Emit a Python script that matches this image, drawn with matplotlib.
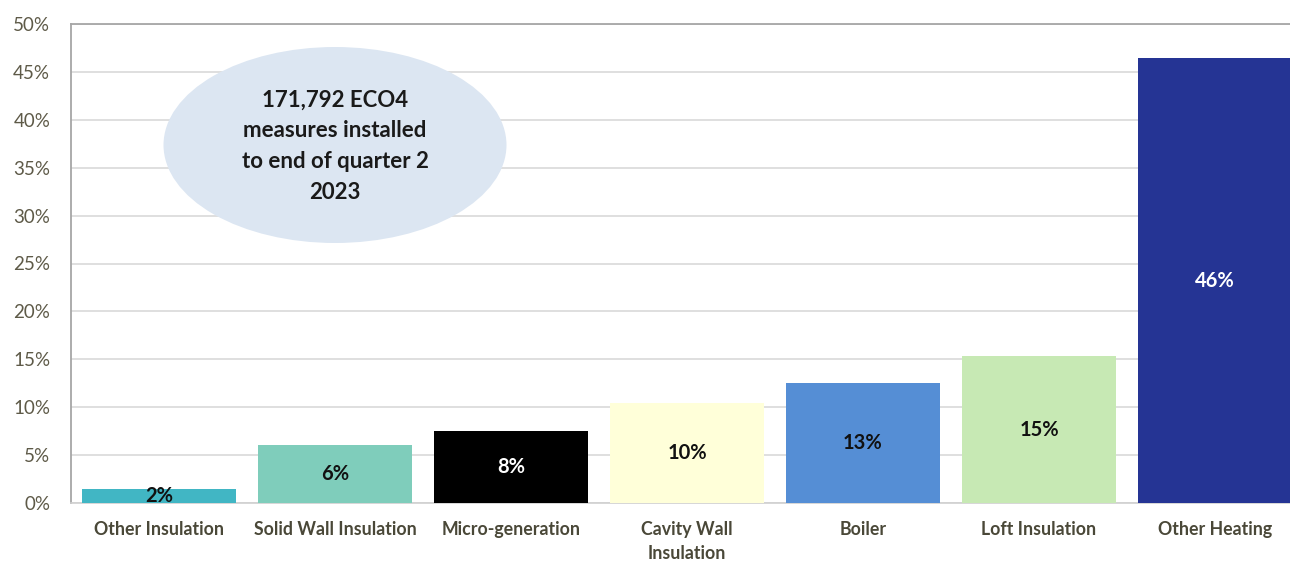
import matplotlib
matplotlib.use("Agg")
import matplotlib.pyplot as plt
from matplotlib.patches import Ellipse
from matplotlib.ticker import FuncFormatter, MultipleLocator

categories = ["Other Insulation", "Solid Wall Insulation", "Micro-generation",
              "Cavity Wall\nInsulation", "Boiler", "Loft Insulation", "Other Heating"]
values = [1.5, 6.1, 7.5, 10.4, 12.5, 15.3, 46.4]
value_labels = ["2%", "6%", "8%", "10%", "13%", "15%", "46%"]
colors = ["#41b6c4", "#7fcdbb", "#000000", "#ffffd9", "#558ed5", "#c7e9b4", "#253494"]
label_colors = ["#111111", "#111111", "#ffffff", "#111111", "#111111", "#111111", "#ffffff"]
callout = "171,792 ECO4\nmeasures installed\nto end of quarter 2\n2023"

plt.rcParams['font.family'] = ['Lato', 'DejaVu Sans']

W, H = 1290, 561
fig = plt.figure(figsize=(W / 100, H / 100), dpi=100)
left, top, bottom = 71, 24, 503
slot = 176
ax = fig.add_axes([left / W, 1 - bottom / H, 7 * slot / W, (bottom - top) / H])

x = list(range(len(categories)))
ax.bar(x, values, width=0.875, color=colors, zorder=3)
ax.set_xlim(-0.5, len(categories) - 0.5)
ax.set_ylim(0, 50)
ax.yaxis.set_major_locator(MultipleLocator(5))
ax.yaxis.set_major_formatter(FuncFormatter(lambda v, p: f"{v:.0f}%"))
ax.grid(axis='y', color='#d9d9d9', linewidth=1.2, zorder=0)
ax.set_axisbelow(True)

for s in ['top', 'left']:
    ax.spines[s].set_color('#a6a6a6')
    ax.spines[s].set_linewidth(1.3)
ax.spines['right'].set_visible(False)
ax.spines['bottom'].set_color('#d0d0d0')
ax.spines['bottom'].set_linewidth(1.2)

ax.tick_params(axis='y', length=0, pad=15, labelsize=13.5, labelcolor='#5e5a48')
ax.tick_params(axis='x', length=0, pad=13)
ax.set_xticks(x)
ax.set_xticklabels(categories, fontsize=12.8, fontweight='bold', color='#4a4838',
                   linespacing=1.5, va='top')

for xi, v, lab, lc in zip(x, values, value_labels, label_colors):
    ax.text(xi, v / 2, lab, ha='center', va='center', fontsize=14.5,
            fontweight='bold', color=lc, zorder=4)

ell = Ellipse((335 / W, 1 - 145 / H), 343 / W, 196 / H, transform=fig.transFigure,
              facecolor='#dce6f2', edgecolor='none', zorder=5)
fig.add_artist(ell)
fig.text(335 / W, 1 - 146 / H, callout, ha='center', va='center', fontsize=16,
         fontweight='bold', color='#1a1a1a', linespacing=1.58, zorder=6)

fig.savefig("out.png", dpi=100)
